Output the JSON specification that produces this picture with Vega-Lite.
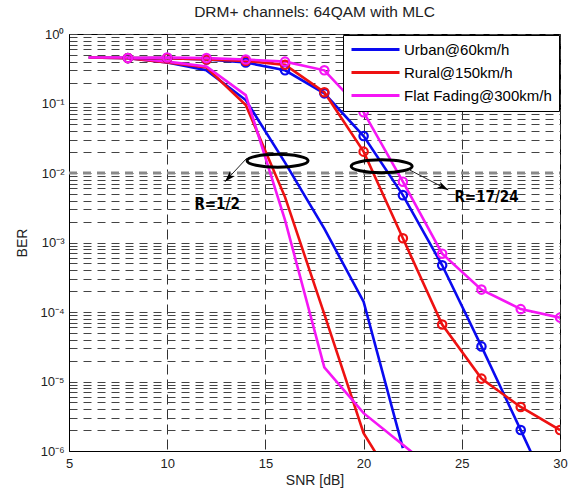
{
  "$schema": "https://vega.github.io/schema/vega-lite/v6.json",
  "width": 491,
  "height": 417,
  "autosize": {"type": "none"},
  "padding": {"left": 69, "top": 34, "right": 17, "bottom": 42},
  "background": "white",
  "title": {"text": "DRM+ channels: 64QAM with MLC", "fontSize": 15.5, "fontWeight": "normal", "font": "Liberation Sans", "color": "#222", "offset": 8},
  "config": {
    "view": {"stroke": "black", "strokeWidth": 1},
    "axis": {"domainColor": "black", "labelFont": "Liberation Sans", "titleFont": "Liberation Sans", "labelColor": "#222", "titleColor": "#222", "labelFontSize": 13, "titleFontSize": 14, "titleFontWeight": "normal", "ticks": false}
  },
  "datasets": {
    "curves": [
      {"snr": 6, "ber": 0.46, "ch": "Urban@60km/h", "rate": "1/2"},
      {"snr": 8, "ber": 0.45, "ch": "Urban@60km/h", "rate": "1/2"},
      {"snr": 10, "ber": 0.39, "ch": "Urban@60km/h", "rate": "1/2"},
      {"snr": 12, "ber": 0.30, "ch": "Urban@60km/h", "rate": "1/2"},
      {"snr": 14, "ber": 0.112, "ch": "Urban@60km/h", "rate": "1/2"},
      {"snr": 16, "ber": 0.0141, "ch": "Urban@60km/h", "rate": "1/2"},
      {"snr": 18, "ber": 0.00158, "ch": "Urban@60km/h", "rate": "1/2"},
      {"snr": 20, "ber": 0.000141, "ch": "Urban@60km/h", "rate": "1/2"},
      {"snr": 22, "ber": 0.0000011, "ch": "Urban@60km/h", "rate": "1/2"},
      {"snr": 6, "ber": 0.46, "ch": "Rural@150km/h", "rate": "1/2"},
      {"snr": 8, "ber": 0.45, "ch": "Rural@150km/h", "rate": "1/2"},
      {"snr": 10, "ber": 0.39, "ch": "Rural@150km/h", "rate": "1/2"},
      {"snr": 12, "ber": 0.33, "ch": "Rural@150km/h", "rate": "1/2"},
      {"snr": 14, "ber": 0.095, "ch": "Rural@150km/h", "rate": "1/2"},
      {"snr": 16, "ber": 0.0045, "ch": "Rural@150km/h", "rate": "1/2"},
      {"snr": 18, "ber": 0.000093, "ch": "Rural@150km/h", "rate": "1/2"},
      {"snr": 20, "ber": 0.0000018, "ch": "Rural@150km/h", "rate": "1/2"},
      {"snr": 22, "ber": 0.00000022, "ch": "Rural@150km/h", "rate": "1/2"},
      {"snr": 6, "ber": 0.46, "ch": "Flat Fading@300km/h", "rate": "1/2"},
      {"snr": 8, "ber": 0.46, "ch": "Flat Fading@300km/h", "rate": "1/2"},
      {"snr": 10, "ber": 0.40, "ch": "Flat Fading@300km/h", "rate": "1/2"},
      {"snr": 12, "ber": 0.34, "ch": "Flat Fading@300km/h", "rate": "1/2"},
      {"snr": 14, "ber": 0.132, "ch": "Flat Fading@300km/h", "rate": "1/2"},
      {"snr": 16, "ber": 0.0021, "ch": "Flat Fading@300km/h", "rate": "1/2"},
      {"snr": 18, "ber": 0.000016, "ch": "Flat Fading@300km/h", "rate": "1/2"},
      {"snr": 20, "ber": 0.0000035, "ch": "Flat Fading@300km/h", "rate": "1/2"},
      {"snr": 22, "ber": 0.00000123, "ch": "Flat Fading@300km/h", "rate": "1/2"},
      {"snr": 24, "ber": 0.00000043, "ch": "Flat Fading@300km/h", "rate": "1/2"},
      {"snr": 8, "ber": 0.45, "ch": "Urban@60km/h", "rate": "17/24"},
      {"snr": 10, "ber": 0.45, "ch": "Urban@60km/h", "rate": "17/24"},
      {"snr": 12, "ber": 0.43, "ch": "Urban@60km/h", "rate": "17/24"},
      {"snr": 14, "ber": 0.39, "ch": "Urban@60km/h", "rate": "17/24"},
      {"snr": 16, "ber": 0.30, "ch": "Urban@60km/h", "rate": "17/24"},
      {"snr": 18, "ber": 0.14, "ch": "Urban@60km/h", "rate": "17/24"},
      {"snr": 20, "ber": 0.034, "ch": "Urban@60km/h", "rate": "17/24"},
      {"snr": 22, "ber": 0.0048, "ch": "Urban@60km/h", "rate": "17/24"},
      {"snr": 24, "ber": 0.00047, "ch": "Urban@60km/h", "rate": "17/24"},
      {"snr": 26, "ber": 0.000032, "ch": "Urban@60km/h", "rate": "17/24"},
      {"snr": 28, "ber": 0.000002, "ch": "Urban@60km/h", "rate": "17/24"},
      {"snr": 30, "ber": 0.00000012, "ch": "Urban@60km/h", "rate": "17/24"},
      {"snr": 8, "ber": 0.45, "ch": "Rural@150km/h", "rate": "17/24"},
      {"snr": 10, "ber": 0.45, "ch": "Rural@150km/h", "rate": "17/24"},
      {"snr": 12, "ber": 0.43, "ch": "Rural@150km/h", "rate": "17/24"},
      {"snr": 14, "ber": 0.41, "ch": "Rural@150km/h", "rate": "17/24"},
      {"snr": 16, "ber": 0.36, "ch": "Rural@150km/h", "rate": "17/24"},
      {"snr": 18, "ber": 0.145, "ch": "Rural@150km/h", "rate": "17/24"},
      {"snr": 20, "ber": 0.0203, "ch": "Rural@150km/h", "rate": "17/24"},
      {"snr": 22, "ber": 0.00115, "ch": "Rural@150km/h", "rate": "17/24"},
      {"snr": 24, "ber": 0.000066, "ch": "Rural@150km/h", "rate": "17/24"},
      {"snr": 26, "ber": 0.000011, "ch": "Rural@150km/h", "rate": "17/24"},
      {"snr": 28, "ber": 0.0000043, "ch": "Rural@150km/h", "rate": "17/24"},
      {"snr": 30, "ber": 0.000002, "ch": "Rural@150km/h", "rate": "17/24"},
      {"snr": 8, "ber": 0.45, "ch": "Flat Fading@300km/h", "rate": "17/24"},
      {"snr": 10, "ber": 0.46, "ch": "Flat Fading@300km/h", "rate": "17/24"},
      {"snr": 12, "ber": 0.45, "ch": "Flat Fading@300km/h", "rate": "17/24"},
      {"snr": 14, "ber": 0.43, "ch": "Flat Fading@300km/h", "rate": "17/24"},
      {"snr": 16, "ber": 0.40, "ch": "Flat Fading@300km/h", "rate": "17/24"},
      {"snr": 18, "ber": 0.30, "ch": "Flat Fading@300km/h", "rate": "17/24"},
      {"snr": 20, "ber": 0.075, "ch": "Flat Fading@300km/h", "rate": "17/24"},
      {"snr": 22, "ber": 0.0075, "ch": "Flat Fading@300km/h", "rate": "17/24"},
      {"snr": 24, "ber": 0.00069, "ch": "Flat Fading@300km/h", "rate": "17/24"},
      {"snr": 26, "ber": 0.00021, "ch": "Flat Fading@300km/h", "rate": "17/24"},
      {"snr": 28, "ber": 0.00011, "ch": "Flat Fading@300km/h", "rate": "17/24"},
      {"snr": 30, "ber": 0.000083, "ch": "Flat Fading@300km/h", "rate": "17/24"}
    ],
    "threshold": [{"snr": 5, "snr2": 30, "ber": 0.01}],
    "ellipses": [
      {"snr": 15.62, "ber": 0.015},
      {"snr": 20.92, "ber": 0.0125}
    ],
    "arrows": [
      {"snr": 14.05, "ber": 0.0163, "snr2": 12.94, "ber2": 0.0075, "dir": 223},
      {"snr": 22.36, "ber": 0.011, "snr2": 24.31, "ber2": 0.0057, "dir": 118}
    ],
    "labels": [
      {"snr": 12.54, "ber": 0.0036, "text": "R=1/2"},
      {"snr": 26.26, "ber": 0.00456, "text": "R=17/24"}
    ]
  },
  "layer": [
    {
      "data": {"name": "threshold"},
      "mark": {"type": "rule", "color": "#8a8a8a", "strokeWidth": 3, "strokeDash": [8, 6]},
      "encoding": {
        "x": {"field": "snr", "type": "quantitative"},
        "x2": {"field": "snr2"},
        "y": {"field": "ber", "type": "quantitative"}
      }
    },
    {
      "data": {"name": "curves"},
      "mark": {"type": "line", "strokeWidth": 2.6, "clip": true},
      "encoding": {
        "x": {"field": "snr", "type": "quantitative", "scale": {"domain": [5, 30], "nice": false, "zero": false},
          "axis": {"title": "SNR [dB]", "values": [5, 10, 15, 20, 25, 30], "gridDash": [10, 5], "gridColor": "#333", "labelPadding": 6, "titlePadding": 3, "labelFlush": false}},
        "y": {"field": "ber", "type": "quantitative", "scale": {"type": "log", "domain": [0.000001, 1], "nice": false},
          "axis": {"title": "BER", "values": [1e-6, 2e-6, 3e-6, 4e-6, 5e-6, 6e-6, 7e-6, 8e-6, 9e-6, 1e-5, 2e-5, 3e-5, 4e-5, 5e-5, 6e-5, 7e-5, 8e-5, 9e-5, 1e-4, 2e-4, 3e-4, 4e-4, 5e-4, 6e-4, 7e-4, 8e-4, 9e-4, 0.001, 0.002, 0.003, 0.004, 0.005, 0.006, 0.007, 0.008, 0.009, 0.01, 0.02, 0.03, 0.04, 0.05, 0.06, 0.07, 0.08, 0.09, 0.1, 0.2, 0.3, 0.4, 0.5, 0.6, 0.7, 0.8, 0.9, 1],
            "labelExpr": "datum.value == 1 ? '10⁰' : datum.value == 0.1 ? '10⁻¹' : datum.value == 0.01 ? '10⁻²' : datum.value == 0.001 ? '10⁻³' : datum.value == 0.0001 ? '10⁻⁴' : datum.value == 0.00001 ? '10⁻⁵' : datum.value == 0.000001 ? '10⁻⁶' : ''",
            "gridDash": [8, 6], "gridColor": "#444", "labelOverlap": false, "labelFlush": false, "labelBound": false, "labelPadding": 5, "titlePadding": 10}},
        "color": {"field": "ch", "type": "nominal",
          "scale": {"domain": ["Urban@60km/h", "Rural@150km/h", "Flat Fading@300km/h"], "range": ["#0a0af0", "#ee1111", "#f516f5"]},
          "legend": {"title": null, "orient": "top-right", "offset": 1, "symbolType": "M-4,0L4,0", "symbolSize": 144, "symbolStrokeWidth": 3, "symbolOffset": 18, "labelOffset": 21, "labelFontSize": 15, "labelFont": "Liberation Sans", "labelColor": "black", "fillColor": "white", "strokeColor": "black", "padding": 7, "rowPadding": 7, "labelLimit": 300}},
        "detail": {"field": "rate", "type": "nominal"}
      }
    },
    {
      "data": {"name": "curves"},
      "transform": [{"filter": "datum.rate == '17/24'"}],
      "mark": {"type": "point", "shape": "circle", "filled": false, "size": 70, "strokeWidth": 2.2, "opacity": 1, "clip": true},
      "encoding": {
        "x": {"field": "snr", "type": "quantitative"},
        "y": {"field": "ber", "type": "quantitative"},
        "color": {"field": "ch", "type": "nominal", "legend": null}
      }
    },
    {
      "data": {"name": "ellipses"},
      "mark": {"type": "point", "shape": "M-1,0A1,0.21,0,1,0,1,0A1,0.21,0,1,0,-1,0Z", "size": 3721, "filled": false, "stroke": "black", "strokeWidth": 3, "opacity": 1},
      "encoding": {
        "x": {"field": "snr", "type": "quantitative"},
        "y": {"field": "ber", "type": "quantitative"}
      }
    },
    {
      "data": {"name": "arrows"},
      "mark": {"type": "rule", "color": "#222", "strokeWidth": 1},
      "encoding": {
        "x": {"field": "snr", "type": "quantitative"},
        "y": {"field": "ber", "type": "quantitative"},
        "x2": {"field": "snr2"},
        "y2": {"field": "ber2"}
      }
    },
    {
      "data": {"name": "arrows"},
      "mark": {"type": "point", "shape": "M0,0L-0.5,1.6L0,1.2L0.5,1.6Z", "size": 189, "filled": true, "color": "black", "opacity": 1},
      "encoding": {
        "x": {"field": "snr2", "type": "quantitative"},
        "y": {"field": "ber2", "type": "quantitative"},
        "angle": {"field": "dir", "type": "quantitative", "scale": null}
      }
    },
    {
      "data": {"name": "labels"},
      "mark": {"type": "text", "font": "Liberation Sans Narrow, DejaVu Sans Condensed, sans-serif", "fontWeight": "bold", "fontSize": 15, "align": "center", "baseline": "middle", "color": "black"},
      "encoding": {
        "x": {"field": "snr", "type": "quantitative"},
        "y": {"field": "ber", "type": "quantitative"},
        "text": {"field": "text"}
      }
    }
  ]
}
